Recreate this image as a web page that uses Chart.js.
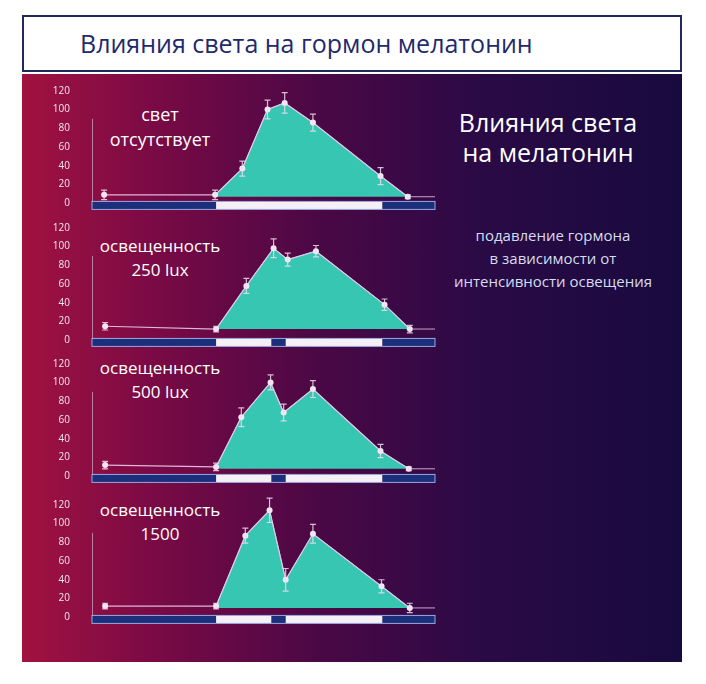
<!DOCTYPE html>
<html><head><meta charset="utf-8">
<script src="https://cdn.jsdelivr.net/npm/chart.js@4"></script>
<style>
body{margin:0;width:706px;height:684px;background:#fff;position:relative;font-family:"Open Sans",sans-serif;overflow:hidden}
#hdr{position:absolute;left:22px;top:15px;color:#1f2a6c;font-size:25px;line-height:53px;padding-left:56px;box-sizing:border-box;width:660px;height:57px;border:2px solid #1f2a5c}
#bg{position:absolute;left:22px;top:74px;width:660px;height:588px;background:linear-gradient(90deg,#a1123f 0%,#7a0a45 20%,#4a0845 45%,#2a0a45 70%,#180a3e 100%)}
canvas{position:absolute}
.t{position:absolute;color:#fff;text-align:center}
</style></head><body>
<div id="hdr">Влияния света на гормон мелатонин</div>
<div id="bg"></div>
<div class="t" style="left:438px;top:107px;width:220px;font-size:25px;line-height:30px">Влияния света<br>на мелатонин</div>
<div class="t" style="left:428px;top:224px;width:250px;font-size:15px;line-height:23px;color:#d4dcf0">подавление гормона<br>в зависимости от<br>интенсивности освещения</div>
<div class="t" style="left:90px;top:102px;width:140px;font-size:18px;line-height:25px">свет<br>отсутствует</div>
<div class="t" style="left:90px;top:234px;width:140px;font-size:17px;line-height:24px">освещенность<br>250 lux</div>
<div class="t" style="left:90px;top:356px;width:140px;font-size:17px;line-height:24px">освещенность<br>500 lux</div>
<div class="t" style="left:90px;top:498px;width:140px;font-size:17px;line-height:24px">освещенность<br>1500</div>
<canvas id="c0" style="left:40px;top:66px" width="405" height="162"></canvas>
<canvas id="c1" style="left:40px;top:203px" width="405" height="162"></canvas>
<canvas id="c2" style="left:40px;top:339px" width="405" height="162"></canvas>
<canvas id="c3" style="left:40px;top:480px" width="405" height="162"></canvas>
<script>
const yTicks=[0,20,40,60,80,100,120];
const times0=[1.2,12.2,14.9,17.4,19.1,21.9,28.6,31.3];
const times1=[1.3,12.3,15.3,18.0,19.4,22.2,29.0,31.5];
const times2=[1.3,12.3,14.8,17.7,19.0,21.9,28.6,31.4];
const times3=[1.3,12.3,15.2,17.6,19.2,21.9,28.7,31.5];
const vals0=[9,9,37,100,107,86,29,7];
const vals1=[15,12,58,98,86,95,38,12];
const vals2=[12,10,63,100,68,93,27,8];
const vals3=[12,12,87,114,40,89,33,10];
const errs0=[5,5,8,10,11,9,9,2];
const errs1=[4,3,8,10,7,6,6,4];
const errs2=[4,4,10,8,9,9,7,2];
const errs3=[3,3,8,13,12,10,7,5];
const bars0=[[0,12.3,'dark'],[12.3,28.8,'light'],[28.8,34,'dark']];
const barsPulse=[[0,12.3,'dark'],[12.3,17.8,'light'],[17.8,19.2,'dark'],[19.2,28.8,'light'],[28.8,34,'dark']];
const panels=[[times0,vals0,errs0,bars0],[times1,vals1,errs1,barsPulse],[times2,vals2,errs2,barsPulse],[times3,vals3,errs3,barsPulse]];

const extras={id:'extras',
 beforeDatasetsDraw(ch){const o=ch.options.plugins.extras,x=ch.scales.x,y=ch.scales.y,c=ch.ctx;
  const t=y.getPixelForValue(2),b=y.getPixelForValue(-6.5);
  o.bars.forEach(([s,e,k])=>{c.fillStyle=k==='dark'?'#1c2f7a':'#f4f0f6';c.fillRect(x.getPixelForValue(s),t,x.getPixelForValue(e)-x.getPixelForValue(s),b-t);});
  c.strokeStyle='#9aa8e0';c.lineWidth=1;c.strokeRect(x.getPixelForValue(0),t,x.getPixelForValue(34)-x.getPixelForValue(0),b-t);
  c.strokeStyle='rgba(220,200,230,0.6)';c.beginPath();c.moveTo(x.getPixelForValue(0)+0.5,y.getPixelForValue(90));c.lineTo(x.getPixelForValue(0)+0.5,t);c.stroke();
  const last=o.t.length-1;c.strokeStyle='rgba(240,200,235,0.8)';c.beginPath();c.moveTo(x.getPixelForValue(o.t[last]),y.getPixelForValue(o.v[last]));c.lineTo(x.getPixelForValue(34),y.getPixelForValue(o.v[last]));c.stroke();},
 afterDatasetsDraw(ch){const o=ch.options.plugins.extras,x=ch.scales.x,y=ch.scales.y,c=ch.ctx;
  c.strokeStyle='rgba(240,220,240,0.85)';c.lineWidth=1.2;
  o.t.forEach((tv,i)=>{const px=x.getPixelForValue(tv),a=y.getPixelForValue(o.v[i]+o.e[i]),b=y.getPixelForValue(o.v[i]-o.e[i]);
   c.beginPath();c.moveTo(px,a);c.lineTo(px,b);c.moveTo(px-3,a);c.lineTo(px+3,a);c.moveTo(px-3,b);c.lineTo(px+3,b);c.stroke();});}};

panels.forEach(([t,v,e,bars],k)=>{
 const pts=t.map((x,i)=>({x,y:v[i]}));
 new Chart(document.getElementById('c'+k),{type:'scatter',
  data:{datasets:[
   {data:pts.slice(1),showLine:true,fill:{value:Math.min(v[1],v[7])},backgroundColor:'#36c6b2',borderColor:'#8fd8e0',borderWidth:1,pointRadius:0,order:2},
   {data:pts,showLine:true,borderColor:'rgba(240,200,235,0.9)',borderWidth:1.2,pointRadius:3,pointBackgroundColor:'#f4e8f4',pointBorderWidth:0,fill:false,order:1}]},
  options:{responsive:false,animation:false,layout:{padding:{top:3,right:10,bottom:1}},
   plugins:{legend:{display:false},tooltip:{enabled:false},extras:{t,v,e,bars}},
   scales:{x:{type:'linear',min:0,max:34,display:false},
    y:{min:-5,max:125,afterFit(s){s.width=52},afterBuildTicks(s){s.ticks=yTicks.map(v=>({value:v}))},
     grid:{display:false},border:{display:false},ticks:{color:'#f0e8f0',font:{size:10,family:'Open Sans'},padding:14}}}},
  plugins:[extras]});
});
</script></body></html>
